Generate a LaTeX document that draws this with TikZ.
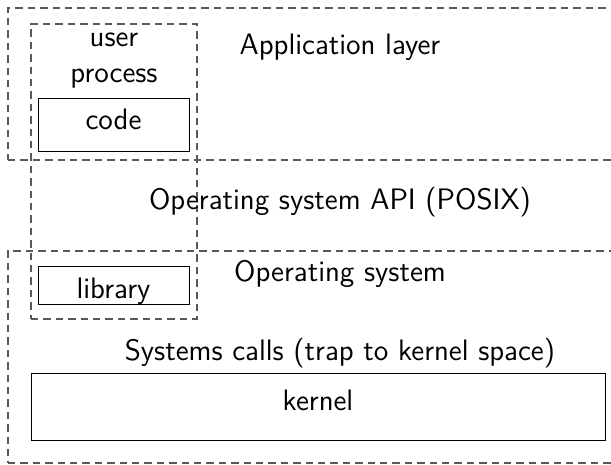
\documentclass[tikz,border=0pt]{standalone}
\usepackage{tikz}
\tikzstyle{layer}=[draw=black!65,line width=0.6pt,dash pattern=on 3.7pt off 2.5pt,inner sep=0pt]
\tikzstyle{block}=[draw,line width=0.5pt,inner sep=0pt]
\tikzstyle{label}=[anchor=base,inner sep=0pt]

\begin{document}
\begin{tikzpicture}[font=\sffamily\fontsize{14.8}{17}\selectfont,x=0.5pt,y=-0.5pt]
  \useasboundingbox (0,0) rectangle (611,465);
  % layers
  \node[layer,minimum width=316pt,minimum height=76pt] (app) at (324,84) {};
  \node[layer,minimum width=316pt,minimum height=106pt] (os) at (324,357) {};
  \node[layer,minimum width=83pt,minimum height=147.5pt] (proc) at (114,171.5) {};
  % boxes
  \node[block,minimum width=75.5pt,minimum height=26.5pt] (code) at (113.5,125.5) {};
  \node[block,minimum width=75.5pt,minimum height=19pt] (lib) at (113.5,285) {};
  \node[block,minimum width=287pt,minimum height=33.5pt] (kern) at (318,406.5) {};
  % texts
  \node[label] (user) at (114,47) {user};
  \node[label] (process) at (114,83) {process};
  \node[label] (codetext) at (113.5,130) {code};
  \node[label] (libtext) at (113.5,298) {library};
  \node[label] (kerntext) at (318,410) {kernel};
  \node[label] (apptext) at (340,55) {Application layer};
  \node[label] (api) at (340,210) {Operating system API (POSIX)};
  \node[label] (ostext) at (340,281) {Operating system};
  \node[label] (calls) at (340,360) {Systems calls (trap to kernel space)};
\end{tikzpicture}
\end{document}
